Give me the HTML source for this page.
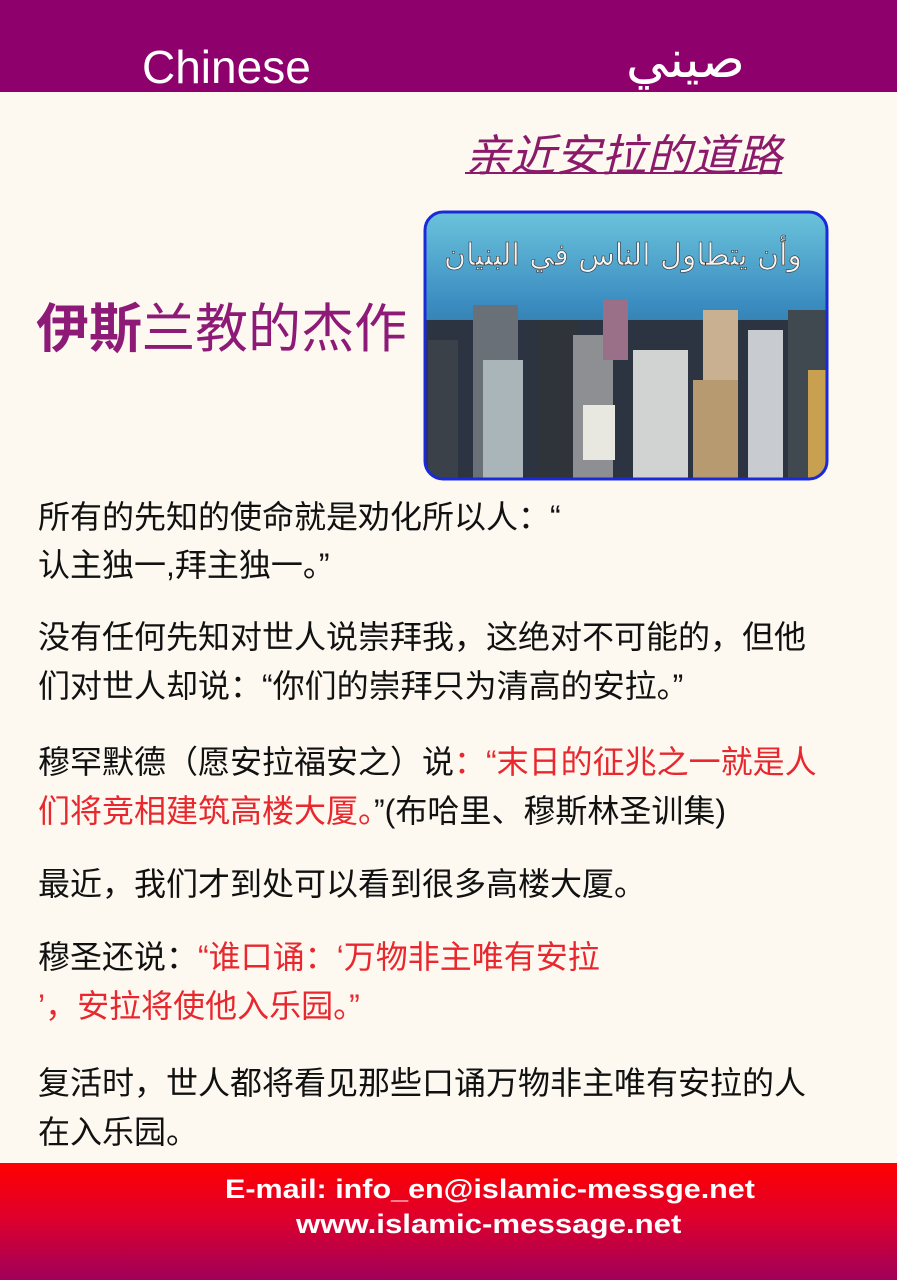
<!DOCTYPE html>
<html><head><meta charset="utf-8">
<style>
body{margin:0;width:897px;height:1280px;overflow:hidden;background:#fdf9f1;position:relative;font-family:"Liberation Sans","Noto Sans CJK SC",sans-serif;}
.abs{position:absolute;white-space:nowrap}
.t{font-size:32px;line-height:40px;color:#111;left:38px}
.r{color:#e8282e}
</style></head><body>
<div class="abs" style="left:0;top:0;width:897px;height:92px;background:#8e006c"></div>
<div class="abs" style="left:142px;top:40px;font-size:46px;line-height:54px;color:#fff">Chinese</div>
<div class="abs" style="left:626px;top:30px;font-size:52px;line-height:60px;color:#fff;font-family:'DejaVu Sans',sans-serif">صيني</div>
<div class="abs" style="left:465px;top:130px;font-size:44px;line-height:54px;color:#8b1a6b;font-style:italic;text-decoration:underline;text-decoration-thickness:2px;transform:scaleX(1.03);transform-origin:left">亲近安拉的道路</div>
<div class="abs" style="left:36px;top:298px;font-size:53px;line-height:64px;color:#8e1a78"><b>伊斯</b>兰教的杰作</div>
<svg class="abs" style="left:423px;top:210px" width="406" height="271" viewBox="0 0 406 271">
<defs><clipPath id="c"><rect x="2" y="2" width="402" height="267" rx="18"/></clipPath>
<linearGradient id="sky" x1="0" y1="0" x2="0" y2="1"><stop offset="0" stop-color="#6cc4dc"/><stop offset="0.35" stop-color="#3a8cc0"/><stop offset="1" stop-color="#1a2a3a"/></linearGradient></defs>
<g clip-path="url(#c)">
<rect width="406" height="271" fill="url(#sky)"/>
<rect x="0" y="110" width="406" height="161" fill="#2b3440"/>
<rect x="5" y="130" width="30" height="141" fill="#3b4148"/>
<rect x="50" y="95" width="45" height="176" fill="#6a7078"/>
<rect x="60" y="150" width="40" height="121" fill="#a9b5b8"/>
<rect x="115" y="110" width="40" height="161" fill="#2f343a"/>
<rect x="150" y="125" width="40" height="146" fill="#8d8f92"/>
<rect x="160" y="195" width="32" height="55" fill="#e8e8e0"/>
<rect x="180" y="90" width="25" height="60" fill="#9a7088"/>
<rect x="210" y="140" width="55" height="131" fill="#d0d3d2"/>
<rect x="280" y="100" width="35" height="70" fill="#c8b090"/>
<rect x="270" y="170" width="45" height="101" fill="#b89a70"/>
<rect x="325" y="120" width="35" height="151" fill="#c8ccd0"/>
<rect x="365" y="100" width="40" height="171" fill="#404850"/>
<rect x="385" y="160" width="20" height="111" fill="#c8a050"/>
<text x="200" y="55" text-anchor="middle" font-size="30" fill="#f4f4f4" stroke="#333" stroke-width="0.6" font-family="DejaVu Sans,sans-serif">وأن يتطاول الناس في البنيان</text>
</g>
<rect x="2" y="2" width="402" height="267" rx="18" fill="none" stroke="#1a2ad8" stroke-width="3"/>
</svg>
<div class="abs t" style="top:497px">所有的先知的使命就是劝化所以人：“</div>
<div class="abs t" style="top:545px">认主独一,拜主独一。”</div>
<div class="abs t" style="top:617px">没有任何先知对世人说崇拜我，这绝对不可能的，但他</div>
<div class="abs t" style="top:666px">们对世人却说：“你们的崇拜只为清高的安拉。”</div>
<div class="abs t" style="top:742px">穆罕默德（愿安拉福安之）说<span class="r">：“末日的征兆之一就是人</span></div>
<div class="abs t" style="top:791px"><span class="r">们将竞相建筑高楼大厦。</span>”(布哈里、穆斯林圣训集)</div>
<div class="abs t" style="top:864px">最近，我们才到处可以看到很多高楼大厦。</div>
<div class="abs t" style="top:937px">穆圣还说：<span class="r">“谁口诵：‘万物非主唯有安拉</span></div>
<div class="abs t" style="top:986px"><span class="r">’，安拉将使他入乐园。”</span></div>
<div class="abs t" style="top:1063px">复活时，世人都将看见那些口诵万物非主唯有安拉的人</div>
<div class="abs t" style="top:1112px">在入乐园。</div>
<div class="abs" style="left:0;top:1163px;width:897px;height:117px;background:linear-gradient(#ff0000 0%,#e0002a 45%,#a0005a 100%)"></div>
<div class="abs" style="left:225px;top:1172px;font-size:27px;line-height:34px;color:#fff;font-weight:bold;transform:scaleX(1.13);transform-origin:left">E-mail: info_en@islamic-messge.net</div>
<div class="abs" style="left:296px;top:1207px;font-size:27px;line-height:34px;color:#fff;font-weight:bold;transform:scaleX(1.155);transform-origin:left">www.islamic-message.net</div>
</body></html>
